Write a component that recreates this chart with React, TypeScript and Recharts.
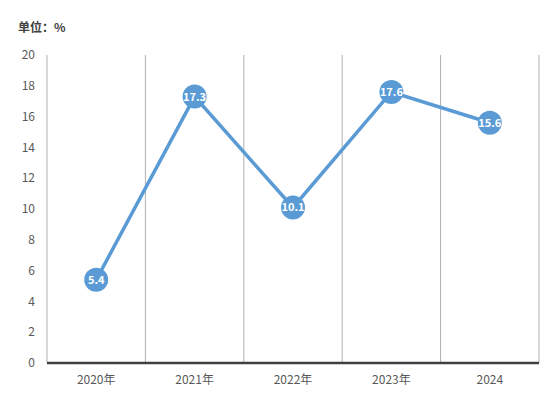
import { CartesianGrid, LabelList, Line, LineChart, XAxis, YAxis } from "recharts";

const years = ["2020年", "2021年", "2022年", "2023年", "2024"];
const growth = [5.4, 17.3, 10.1, 17.6, 15.6];
const yTicks = [0, 2, 4, 6, 8, 10, 12, 14, 16, 18, 20];

const data = years.map((year, i) => ({ year, value: growth[i] }));

const BLUE = "#5b9bd5";
const FONT = "'Noto Sans CJK SC', 'Noto Sans', sans-serif";

function Marker(props: any) {
  const { cx, cy } = props;
  if (cx == null || cy == null) return null;
  return <circle cx={cx} cy={cy} r={12} fill={BLUE} stroke="none" />;
}

function ValueLabel(props: any) {
  const { x, y, value } = props;
  return (
    <text x={x} y={y} dy={4} textAnchor="middle" fill="#fff" fontSize={11} fontWeight={700} fontFamily={FONT}>
      {value}
    </text>
  );
}

export default function App() {
  return (
    <div style={{ position: "absolute", left: 0, top: 0, width: 555, height: 396, background: "#fff" }}>
      <div style={{ position: "absolute", left: 18, top: 18, fontSize: 12, fontWeight: 700, color: "#404040", fontFamily: FONT }}>
        单位：%
      </div>
      <LineChart width={555} height={396} data={data} margin={{ top: 55, right: 16, bottom: 0, left: 0 }}>
        <CartesianGrid
          horizontal={false}
          stroke="#b0b0b0"
          verticalCoordinatesGenerator={({ offset }: any) =>
            years.map((_, i) => offset.left + (offset.width * (i + 1)) / years.length).concat([offset.left])
          }
        />
        <XAxis
          dataKey="year"
          scale="band"
          height={33}
          tickLine={false}
          axisLine={{ stroke: "#404040", strokeWidth: 2.5 }}
          tick={{ fill: "#595959", fontSize: 12, fontFamily: FONT }}
          tickMargin={6}
        />
        <YAxis
          width={47}
          domain={[0, 20]}
          ticks={yTicks}
          tickLine={false}
          axisLine={false}
          tick={{ fill: "#595959", fontSize: 12, fontFamily: FONT }}
          tickMargin={6}
          interval={0}
        />
        <Line
          dataKey="value"
          stroke={BLUE}
          strokeWidth={3.5}
          dot={<Marker />}
          activeDot={false}
          isAnimationActive={false}
        >
          <LabelList dataKey="value" content={<ValueLabel />} />
        </Line>
      </LineChart>
    </div>
  );
}
